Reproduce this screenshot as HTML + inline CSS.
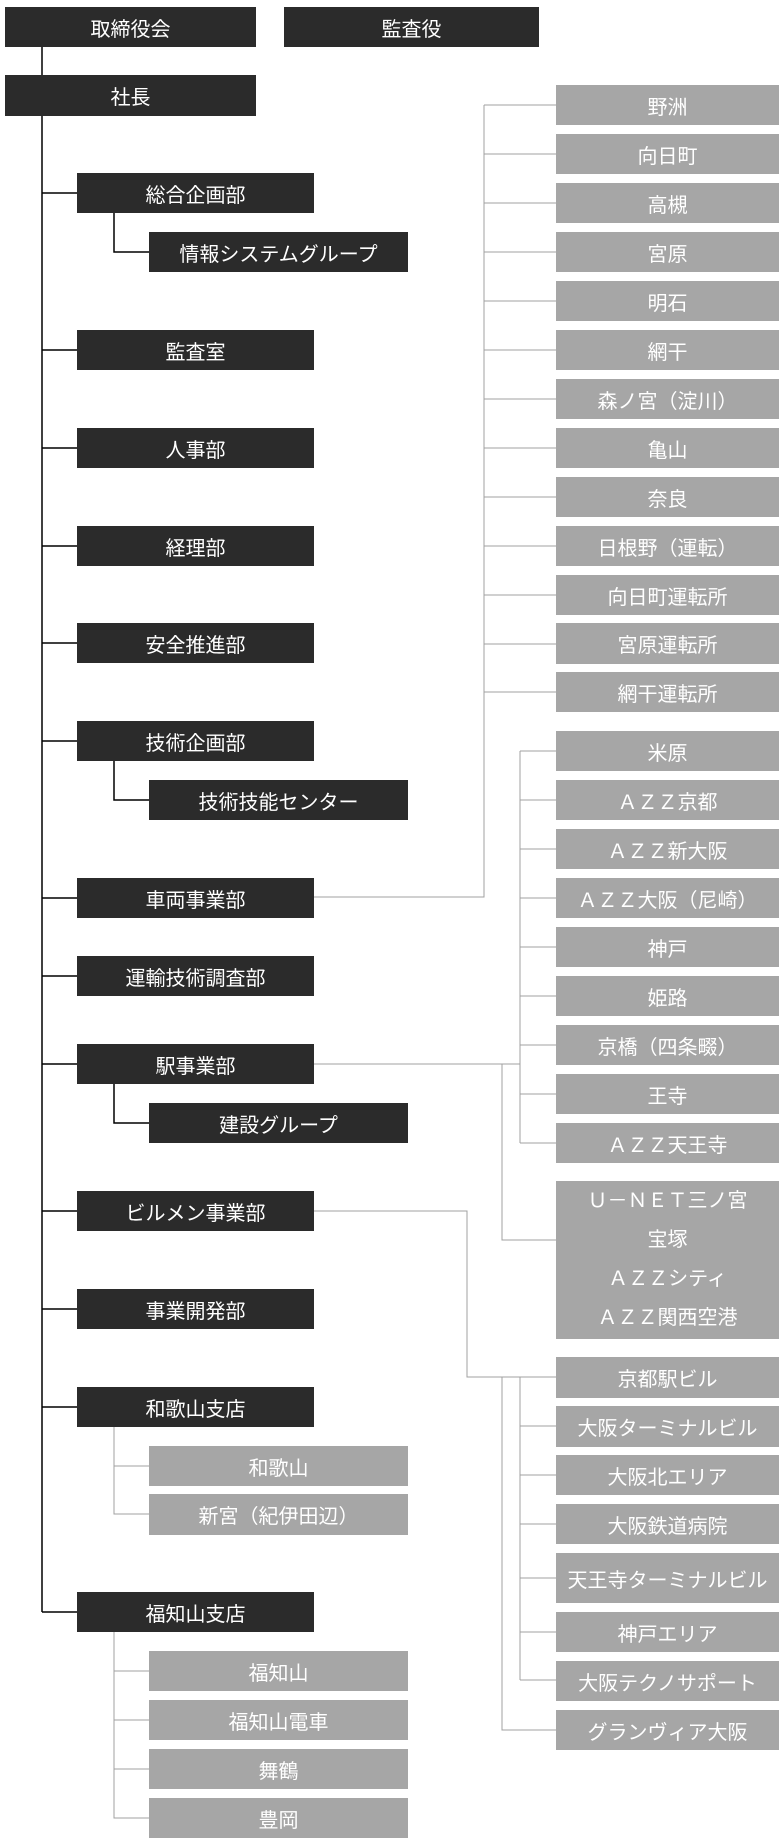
<!DOCTYPE html>
<html><head><meta charset="utf-8"><style>
body{margin:0;width:779px;height:1839px;position:relative;background:#fff;font-family:"Liberation Sans","Noto Sans CJK JP",sans-serif;overflow:hidden}
.b{position:absolute;color:#fff;font-size:20px;display:flex;align-items:center;justify-content:center;text-align:center}
.d{background:#2b2b2b}
.g{background:#a6a6a6;left:556px;width:223px;height:40px}
.s{background:#a6a6a6;left:149px;width:259px;height:40px}
svg{position:absolute;left:0;top:0}
</style></head><body>
<svg width="779" height="1839">
<g stroke="#000" stroke-width="1.5" fill="none">
<line x1="42" y1="47" x2="42" y2="75"/>
<line x1="42" y1="116" x2="42" y2="1612"/>
<path d="M42 193H77M42 350H77M42 448H77M42 546H77M42 643H77M42 741H77M42 898H77M42 976H77M42 1064H77M42 1211H77M42 1309H77M42 1407H77M42 1612H77"/>
<path d="M114 213V252H149M114 761V800H149M114 1084V1123H149"/>
</g>
<g stroke="#a0a0a0" stroke-width="1" fill="none">
<path d="M114 1427V1514H149M114 1466H149M114 1632V1818H149M114 1671H149M114 1720H149M114 1769H149"/>
<path d="M314 897H484V105M484 105H556M484 154H556M484 203H556M484 252H556M484 301H556M484 350H556M484 399H556M484 448H556M484 497H556M484 546H556M484 595H556M484 644H556M484 692H556"/>
<path d="M314 1064H520M520 751V1143M520 751H556M520 800H556M520 849H556M520 898H556M520 947H556M520 996H556M520 1045H556M520 1094H556M520 1143H556"/>
<path d="M502 1064V1240H556"/>
<path d="M314 1211H467V1377H556M520 1377V1680M520 1426H556M520 1475H556M520 1524H556M520 1578H556M520 1632H556M520 1680H556M502 1377V1730H556"/>
</g>
</svg>
<div class="b d" style="left:5px;top:7px;width:251px;height:40px">取締役会</div>
<div class="b d" style="left:284px;top:7px;width:255px;height:40px">監査役</div>
<div class="b d" style="left:5px;top:75px;width:251px;height:41px">社長</div>
<div class="b d" style="left:77px;top:173px;width:237px;height:40px">総合企画部</div>
<div class="b d" style="left:149px;top:232px;width:259px;height:40px">情報システムグループ</div>
<div class="b d" style="left:77px;top:330px;width:237px;height:40px">監査室</div>
<div class="b d" style="left:77px;top:428px;width:237px;height:40px">人事部</div>
<div class="b d" style="left:77px;top:526px;width:237px;height:40px">経理部</div>
<div class="b d" style="left:77px;top:623px;width:237px;height:40px">安全推進部</div>
<div class="b d" style="left:77px;top:721px;width:237px;height:40px">技術企画部</div>
<div class="b d" style="left:149px;top:780px;width:259px;height:40px">技術技能センター</div>
<div class="b d" style="left:77px;top:878px;width:237px;height:40px">車両事業部</div>
<div class="b d" style="left:77px;top:956px;width:237px;height:40px">運輸技術調査部</div>
<div class="b d" style="left:77px;top:1044px;width:237px;height:40px">駅事業部</div>
<div class="b d" style="left:149px;top:1103px;width:259px;height:40px">建設グループ</div>
<div class="b d" style="left:77px;top:1191px;width:237px;height:40px">ビルメン事業部</div>
<div class="b d" style="left:77px;top:1289px;width:237px;height:40px">事業開発部</div>
<div class="b d" style="left:77px;top:1387px;width:237px;height:40px">和歌山支店</div>
<div class="b s" style="top:1446px">和歌山</div>
<div class="b s" style="top:1494px;height:41px">新宮（紀伊田辺）</div>
<div class="b d" style="left:77px;top:1592px;width:237px;height:40px">福知山支店</div>
<div class="b s" style="top:1651px">福知山</div>
<div class="b s" style="top:1700px">福知山電車</div>
<div class="b s" style="top:1749px">舞鶴</div>
<div class="b s" style="top:1798px">豊岡</div>

<div class="b g" style="top:85px">野洲</div>
<div class="b g" style="top:134px">向日町</div>
<div class="b g" style="top:183px">高槻</div>
<div class="b g" style="top:232px">宮原</div>
<div class="b g" style="top:281px">明石</div>
<div class="b g" style="top:330px">網干</div>
<div class="b g" style="top:379px">森ノ宮（淀川）</div>
<div class="b g" style="top:428px">亀山</div>
<div class="b g" style="top:477px">奈良</div>
<div class="b g" style="top:526px">日根野（運転）</div>
<div class="b g" style="top:575px">向日町運転所</div>
<div class="b g" style="top:623px;height:41px">宮原運転所</div>
<div class="b g" style="top:672px">網干運転所</div>

<div class="b g" style="top:731px">米原</div>
<div class="b g" style="top:780px">ＡＺＺ京都</div>
<div class="b g" style="top:829px">ＡＺＺ新大阪</div>
<div class="b g" style="top:878px">ＡＺＺ大阪（尼崎）</div>
<div class="b g" style="top:927px">神戸</div>
<div class="b g" style="top:976px">姫路</div>
<div class="b g" style="top:1025px">京橋（四条畷）</div>
<div class="b g" style="top:1074px">王寺</div>
<div class="b g" style="top:1123px">ＡＺＺ天王寺</div>
<div class="b g" style="top:1181px;height:158px;line-height:39px;flex-direction:column">Ｕ－ＮＥＴ三ノ宮<br>宝塚<br>ＡＺＺシティ<br>ＡＺＺ関西空港</div>

<div class="b g" style="top:1357px;height:41px">京都駅ビル</div>
<div class="b g" style="top:1406px;height:41px">大阪ターミナルビル</div>
<div class="b g" style="top:1455px">大阪北エリア</div>
<div class="b g" style="top:1504px">大阪鉄道病院</div>
<div class="b g" style="top:1553px;height:50px">天王寺ターミナルビル</div>
<div class="b g" style="top:1612px">神戸エリア</div>
<div class="b g" style="top:1661px">大阪テクノサポート</div>
<div class="b g" style="top:1710px">グランヴィア大阪</div>
</body></html>
